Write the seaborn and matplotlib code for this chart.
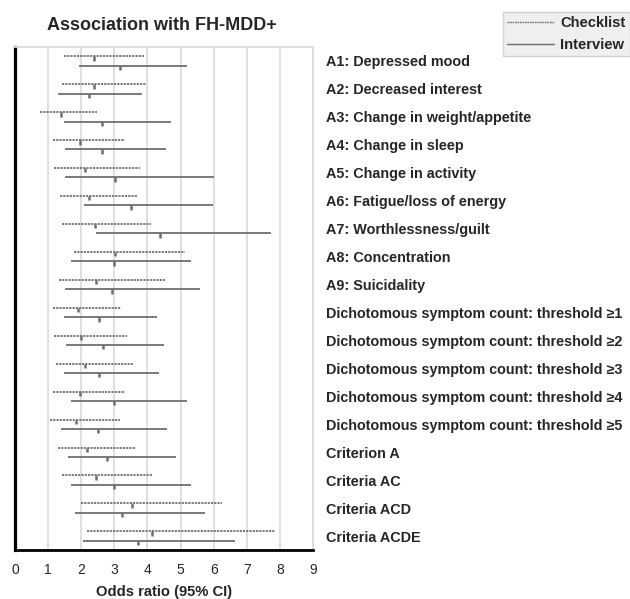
import matplotlib
matplotlib.use("Agg")
import matplotlib.pyplot as plt
import seaborn as sns
import numpy as np
import pandas as pd
from matplotlib.path import Path
from matplotlib.lines import Line2D

labels = [
    "A1: Depressed mood",
    "A2: Decreased interest",
    "A3: Change in weight/appetite",
    "A4: Change in sleep",
    "A5: Change in activity",
    "A6: Fatigue/loss of energy",
    "A7: Worthlessness/guilt",
    "A8: Concentration",
    "A9: Suicidality",
    "Dichotomous symptom count: threshold \u22651",
    "Dichotomous symptom count: threshold \u22652",
    "Dichotomous symptom count: threshold \u22653",
    "Dichotomous symptom count: threshold \u22654",
    "Dichotomous symptom count: threshold \u22655",
    "Criterion A",
    "Criteria AC",
    "Criteria ACD",
    "Criteria ACDE",
]

checklist_or = [2.38, 2.38, 1.39, 1.96, 2.10, 2.23, 2.41, 3.02, 2.44, 1.90, 1.99, 2.11, 1.96, 1.84, 2.17, 2.44, 3.53, 4.13]
checklist_lo = [1.48, 1.42, 0.75, 1.15, 1.18, 1.36, 1.42, 1.78, 1.33, 1.15, 1.18, 1.24, 1.15, 1.06, 1.30, 1.42, 1.99, 2.17]
checklist_hi = [3.89, 3.95, 2.48, 3.33, 3.77, 3.71, 4.10, 5.13, 4.56, 3.20, 3.38, 3.56, 3.32, 3.17, 3.65, 4.16, 6.25, 7.85]

interview_or = [3.17, 2.23, 2.63, 2.63, 3.02, 3.50, 4.38, 2.99, 2.93, 2.53, 2.66, 2.53, 2.99, 2.50, 2.78, 2.99, 3.23, 3.71]
interview_lo = [1.94, 1.30, 1.48, 1.51, 1.51, 2.08, 2.44, 1.69, 1.51, 1.48, 1.54, 1.48, 1.69, 1.39, 1.60, 1.69, 1.81, 2.05]
interview_hi = [5.18, 3.83, 4.71, 4.56, 6.00, 5.97, 7.72, 5.31, 5.58, 4.28, 4.50, 4.35, 5.19, 4.59, 4.86, 5.31, 5.73, 6.64]

methods = ["Checklist", "Interview"]
xticks = list(range(0, 10))

sns.set_style("white")
plt.rcParams["font.family"] = ["Liberation Sans", "DejaVu Sans"]

GRAY = "#6e6e6e"
GRID = "#dcdcdc"
DOT = (0, (1.2, 0.6))
FS = 10.4

n = len(labels)
rows = np.arange(n)
df = pd.DataFrame({
    "label": labels * 2,
    "row": np.concatenate([rows - 0.167, rows + 0.167]),
    "method": ["Checklist"] * n + ["Interview"] * n,
    "or": checklist_or + interview_or,
    "lo": checklist_lo + interview_lo,
    "hi": checklist_hi + interview_hi,
})

fig = plt.figure(figsize=(6.3, 5.99), dpi=100)
ax = fig.add_axes([15 / 630, 49 / 599, (313 - 15) / 630, (552 - 49) / 599])

# grid
for g in xticks[1:]:
    ax.axvline(g, color=GRID, lw=1.3, zorder=0)

# CI lines
for m, ls in zip(methods, [DOT, "-"]):
    d = df[df.method == m]
    ax.hlines(d["row"], d["lo"], d["hi"], colors=GRAY, linestyles=[ls], lw=1.3, zorder=2)

# point estimate ticks (vertical marks below the line)
tick_marker = Path([(0, 0), (0, -1)], [Path.MOVETO, Path.LINETO])
sns.scatterplot(data=df, x="or", y="row", marker=tick_marker, s=40,
                facecolor="none", edgecolor=GRAY, linewidth=1.8, ax=ax,
                legend=False, zorder=3)

ax.set_xlim(0, 9)
ax.set_ylim(n - 0.5, -0.5)
ax.set_xticks(xticks)
ax.set_xticklabels([str(t) for t in xticks], fontsize=10)
ax.set_yticks(rows)
ax.set_yticklabels(labels, fontsize=FS, fontweight="bold")
ax.yaxis.tick_right()
ax.tick_params(axis="y", length=0, pad=9)
ax.tick_params(axis="x", length=4, width=1.8, color="black", direction="out", pad=5)
ax.set_xlabel("Odds ratio (95% CI)", fontsize=10.6, fontweight="bold", labelpad=6)
ax.set_ylabel("")

for s in ["top", "right"]:
    ax.spines[s].set_color(GRID)
    ax.spines[s].set_linewidth(1.3)
ax.spines["left"].set_color("black")
ax.spines["left"].set_linewidth(2.3)
ax.spines["bottom"].set_color("black")
ax.spines["bottom"].set_linewidth(2.0)

fig.text(162 / 630, 1 - 25 / 599, "Association with FH-MDD+", ha="center", va="center",
         fontsize=13, fontweight="bold")

handles = [Line2D([], [], color=GRAY, lw=1.0, ls=(0, (1.2, 0.6))),
           Line2D([], [], color=GRAY, lw=1.0, ls="-")]
leg = fig.legend(handles, methods, loc="upper right", bbox_to_anchor=(1.0, 1 - 12 / 599),
                 borderaxespad=0, frameon=True, fancybox=False, handlelength=3.15,
                 handletextpad=0.45, labelspacing=0.5, borderpad=0.3,
                 prop={"size": 10.6, "weight": "bold"})
leg.get_frame().set_facecolor("#ebebeb")
leg.get_frame().set_edgecolor("#c8c8c8")
leg.get_frame().set_linewidth(1.0)

fig.savefig("out.png", dpi=100)
